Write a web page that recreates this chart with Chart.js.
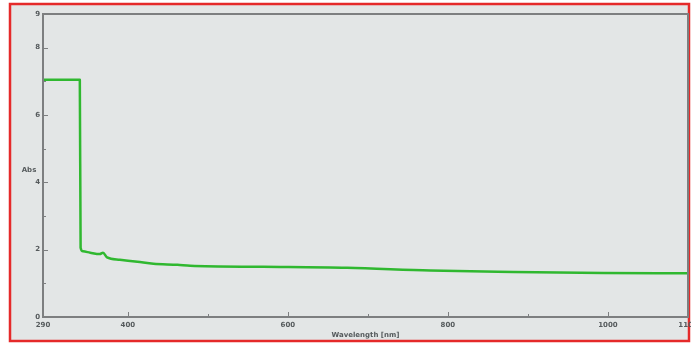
<!DOCTYPE html>
<html>
<head>
<meta charset="utf-8">
<script src="https://cdn.jsdelivr.net/npm/chart.js@4.4.0/dist/chart.umd.min.js"></script>
<style>
  html, body { margin: 0; background: #fff; }
  #wrap { width: 691px; height: 347px; }
</style>
</head>
<body>
<div id="wrap"><canvas id="chart"></canvas></div>
<script>
// spectrum
const wavelength = [294, 340, 341, 344, 353, 365, 369, 374, 390, 412, 432, 462, 478, 569, 674, 778, 882, 994, 1100]
const absorbance = [7.05, 7.05, 2.06, 1.95, 1.91, 1.87, 1.91, 1.77, 1.70, 1.64, 1.58, 1.55, 1.52, 1.49, 1.46, 1.38, 1.34, 1.31, 1.30]

const xMajorTicks = [400, 600, 800, 1000]
const xMinorTicks = [500, 700, 900]
const xEdgeLabels = ['290', '1100']
const yMajorTicks = [0, 2, 4, 6, 8, 9]
const yMinorTicks = [1, 3, 5, 7]

const points = wavelength.map((w, i) => ({ x: w, y: absorbance[i] }))

// frame, ticks, labels like the instrument software
const framePlugin = {
  id: 'frame',
  beforeDraw(chart) {
    const ctx = chart.ctx
    ctx.save()
    ctx.fillStyle = '#ffffff'
    ctx.fillRect(0, 0, chart.width, chart.height)
    ctx.fillStyle = '#e3e6e6'
    ctx.fillRect(10, 4, 679, 337)
    ctx.strokeStyle = '#e52a2a'
    ctx.lineWidth = 2.5
    ctx.strokeRect(10, 4, 679, 337)
    ctx.restore()
  },
  afterDraw(chart) {
    const ctx = chart.ctx
    const a = chart.chartArea
    const xs = chart.scales.x, ys = chart.scales.y
    ctx.save()
    ctx.strokeStyle = '#7d7f80'
    ctx.lineWidth = 2
    ctx.strokeRect(a.left, a.top, a.right - a.left, a.bottom - a.top)

    ctx.lineWidth = 1
    ctx.beginPath()
    xMajorTicks.forEach(v => {
      const px = Math.round(xs.getPixelForValue(v)) + 0.5
      ctx.moveTo(px, a.bottom); ctx.lineTo(px, a.bottom - 5)
    })
    xMinorTicks.forEach(v => {
      const px = Math.round(xs.getPixelForValue(v)) + 0.5
      ctx.moveTo(px, a.bottom); ctx.lineTo(px, a.bottom - 3)
    })
    yMajorTicks.forEach(v => {
      const py = Math.round(ys.getPixelForValue(v)) + 0.5
      ctx.moveTo(a.left, py); ctx.lineTo(a.left + 5, py)
    })
    yMinorTicks.forEach(v => {
      const py = Math.round(ys.getPixelForValue(v)) + 0.5
      ctx.moveTo(a.left, py); ctx.lineTo(a.left + 3, py)
    })
    ctx.stroke()

    ctx.fillStyle = '#555a5c'
    ctx.font = 'bold 7px "DejaVu Sans"'
    ctx.textAlign = 'center'
    ctx.textBaseline = 'top'
    xMajorTicks.forEach(v => ctx.fillText(String(v), xs.getPixelForValue(v), a.bottom + 5))
    ctx.fillText(xEdgeLabels[0], a.left, a.bottom + 5)
    ctx.fillText(xEdgeLabels[1], a.right, a.bottom + 5)
    ctx.fillText('Wavelength [nm]', (a.left + a.right) / 2, a.bottom + 15)

    ctx.textAlign = 'right'
    ctx.textBaseline = 'middle'
    yMajorTicks.forEach(v => ctx.fillText(String(v), a.left - 3, ys.getPixelForValue(v)))
    ctx.textAlign = 'center'
    ctx.fillText('Abs', 29, 170)
    ctx.restore()
  }
}

new Chart(document.getElementById('chart'), {
  type: 'line',
  data: {
    datasets: [{
      data: points,
      borderColor: '#30b830',
      borderWidth: 2.5,
      borderJoinStyle: 'round',
      pointRadius: 0,
      cubicInterpolationMode: 'monotone'
    }]
  },
  options: {
    responsive: true,
    maintainAspectRatio: false,
    animation: false,
    layout: { padding: { left: 43, right: 3, top: 14, bottom: 30 } },
    plugins: { legend: { display: false }, tooltip: { enabled: false } },
    scales: {
      x: { type: 'linear', min: 294, max: 1100, display: false },
      y: { min: 0, max: 9, display: false }
    }
  },
  plugins: [framePlugin]
})
</script>
</body>
</html>
